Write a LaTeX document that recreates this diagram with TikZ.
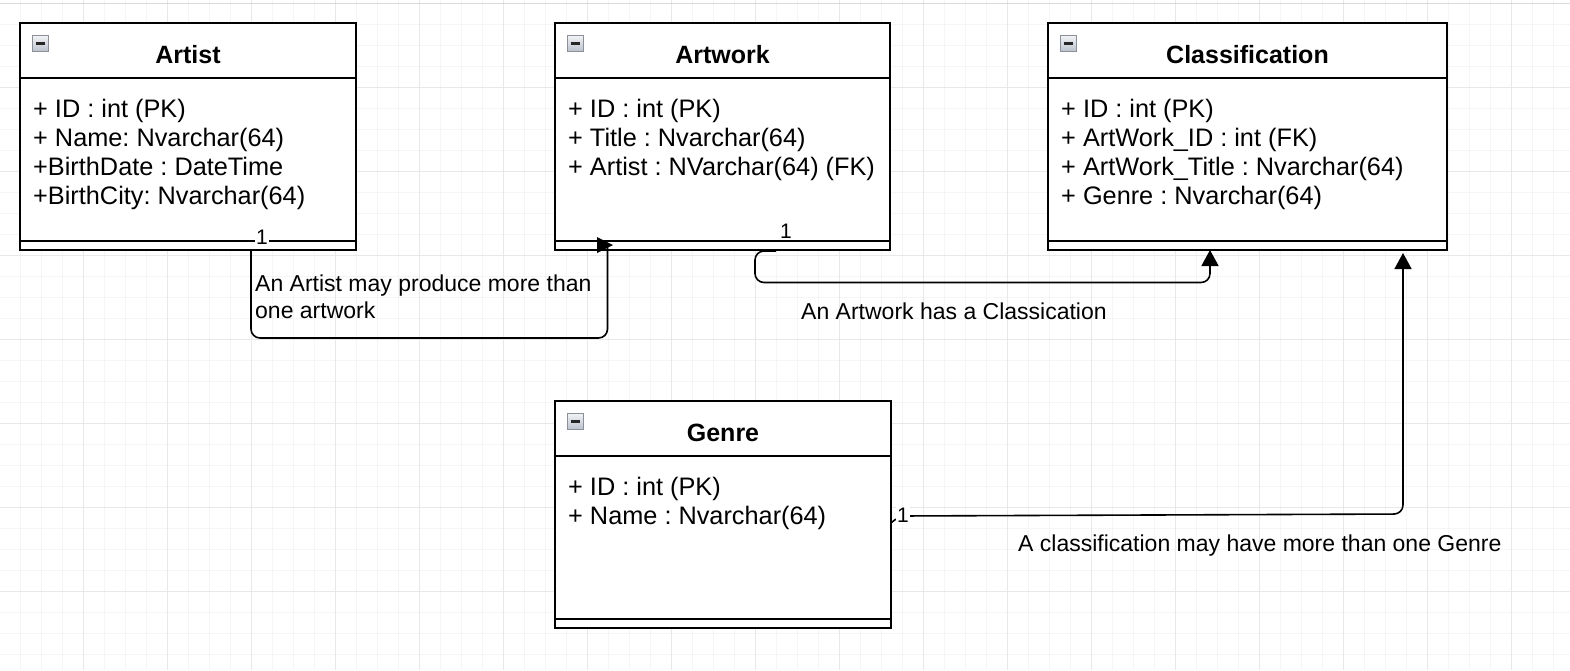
\documentclass[tikz,border=0pt]{standalone}
\usepackage{fontspec}
\setmainfont{Liberation Sans}
\frenchspacing
\usetikzlibrary{calc,arrows.meta}
\definecolor{gridminor}{HTML}{F5F5F5}
\definecolor{gridmajor}{HTML}{E8E8E8}
\definecolor{iconlight}{HTML}{F3F4F7}
\definecolor{icondark}{HTML}{BCC3CE}
\definecolor{iconborder}{HTML}{8A8F98}
\tikzset{
  minusicon/.pic={
    \draw[draw=iconborder, top color=iconlight, bottom color=icondark, line width=0.8pt] (0,0) rectangle (16,16);
    \draw[line width=2.4pt, color=black!85] (3.5,8.5) -- (12.5,8.5);
  }
}
\begin{document}
\begin{tikzpicture}[x=1pt,y=-1pt,
  umlbox/.style={draw=black, line width=1.8pt, fill=white, anchor=north west, inner sep=0pt, outer sep=0pt},
  sepline/.style={draw=black, line width=1.8pt},
  boxtitle/.style={font=\fontsize{25}{30}\selectfont\bfseries, anchor=base, inner sep=0pt},
  attr/.style={font=\fontsize{25.3}{30}\selectfont, anchor=base west, inner sep=0pt},
  lbl/.style={font=\fontsize{23}{27}\selectfont, anchor=base west, inner sep=0pt},
  one/.style={font=\fontsize{21}{24}\selectfont, fill=white, inner sep=1.5pt},
  conn/.style={draw=black, line width=1.6pt, rounded corners=9pt},
  tip/.style={-{Triangle[width=17pt,length=16pt]}}
]
\useasboundingbox (0,0) rectangle (1570,670);
\fill[white] (0,0) rectangle (1570,670);
% grid
\foreach \i in {0,...,75} { \draw[gridminor, line width=1pt] ({-0.7+21*\i},0) -- ({-0.7+21*\i},670); }
\foreach \i in {0,...,32} { \draw[gridminor, line width=1pt] (0,{3.3+21*\i}) -- (1570,{3.3+21*\i}); }
\foreach \i in {0,...,19} { \draw[gridmajor, line width=1pt] ({-0.7+84*\i},0) -- ({-0.7+84*\i},670); }
\foreach \i in {0,...,8} { \draw[gridmajor, line width=1pt] (0,{3.3+84*\i}) -- (1570,{3.3+84*\i}); }
\draw[gray!30, line width=1.2pt] (0,3.3) -- (1570,3.3);

% boxes
\node[umlbox, minimum width=336pt, minimum height=227pt] (artist) at (20,23) {};
\node[umlbox, minimum width=335pt, minimum height=227pt] (artwork) at (555,23) {};
\node[umlbox, minimum width=399pt, minimum height=227pt] (classification) at (1048,23) {};
\node[umlbox, minimum width=336pt, minimum height=227pt] (genre) at (555,401) {};

\foreach \b in {artist,artwork,classification,genre} {
  \draw[sepline] ($(\b.north west)+(0,55)$) -- ($(\b.north east)+(0,55)$);
  \draw[sepline] ($(\b.south west)+(0,-9)$) -- ($(\b.south east)+(0,-9)$);
}

% icons
\pic at (32,35) {minusicon};
\pic at (567,35) {minusicon};
\pic at (1060,35) {minusicon};
\pic at (567,413) {minusicon};

% titles
\node[boxtitle] (artist-t) at (188,63) {Artist};
\node[boxtitle] (artwork-t) at (722.5,63) {Artwork};
\node[boxtitle] (classification-t) at (1247.5,63) {Classification};
\node[boxtitle] (genre-t) at (723,441) {Genre};

% attributes
\foreach \t [count=\k] in {{+ ID : int (PK)},{+ Name: Nvarchar(64)},{+BirthDate : DateTime},{+BirthCity: Nvarchar(64)}}
  \node[attr] (artist-a\k) at (33,{117+29.3*(\k-1)}) {\t};
\foreach \t [count=\k] in {{+ ID : int (PK)},{+ Title : Nvarchar(64)},{+ Artist : NVarchar(64) (FK)}}
  \node[attr] (artwork-a\k) at (568,{117+29.3*(\k-1)}) {\t};
\foreach \t [count=\k] in {{+ ID : int (PK)},{+ ArtWork\_ID : int (FK)},{+ ArtWork\_Title : Nvarchar(64)},{+ Genre : Nvarchar(64)}}
  \node[attr] (classification-a\k) at (1061,{117+29.3*(\k-1)}) {\t};
\foreach \t [count=\k] in {{+ ID : int (PK)},{+ Name : Nvarchar(64)}}
  \node[attr] (genre-a\k) at (568,{495+29.3*(\k-1)}) {\t};

% connector Artist -> Artwork
\draw[conn] ($(artist.south west)+(231,0)$) -- (251,338) -- (607.5,338) -- ($(artwork.south west)+(52.5,-4)$);
\fill[black] ($(artwork.south west)+(42,-13)$) -- ($(artwork.south west)+(58,-5)$) -- ($(artwork.south west)+(42,3)$) -- cycle;
\node[one] (one1) at (262,237) {1};
\node[lbl] (lbl1a) at (255,291) {An Artist may produce more than};
\node[lbl] (lbl1b) at (255,318) {one artwork};

% connector Artwork -> Classification
\draw[conn,tip] ($(artwork.south west)+(221,1)$) -- (755,251) -- (755,282.5) -- (1210,282.5) -- ($(classification.south west)+(162,0)$);
\node[one] (one2) at (786,231) {1};
\node[lbl] (lbl2) at (801,319) {An Artwork has a Classication};

% connector Genre -> Classification
\draw[conn,tip] ($(genre.south east)+(0,-105)$) -- (898,516) -- (1403,514) -- ($(classification.south west)+(355,3)$);
\node[one] (one3) at (903,515) {1};
\node[lbl] (lbl3) at (1018,551) {A classification may have more than one Genre};
\end{tikzpicture}
\end{document}
